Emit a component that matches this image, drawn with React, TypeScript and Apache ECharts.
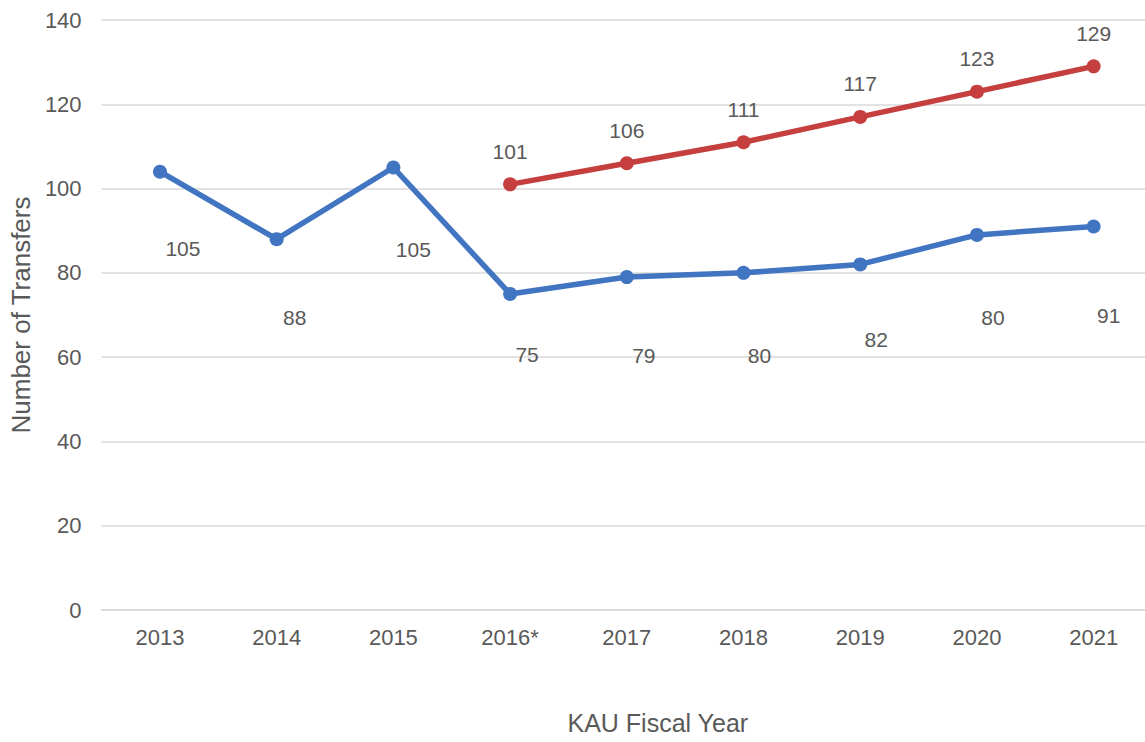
import React, { useEffect, useRef } from "react";
import * as echarts from "echarts";

const years = ["2013", "2014", "2015", "2016*", "2017", "2018", "2019", "2020", "2021"];
const blueValues = [104, 88, 105, 75, 79, 80, 82, 89, 91];
const blueLabels = ["105", "88", "105", "75", "79", "80", "82", "80", "91"];
const redValues: (number | string)[] = ["-", "-", "-", 101, 106, 111, 117, 123, 129];
const redLabels = ["", "", "", "101", "106", "111", "117", "123", "129"];
const yTicks = { min: 0, max: 140, interval: 20 };

// label placement offsets (style only)
const blueLabelOffsets = [[23, 77], [18, 78], [20, 82], [17, 61], [17, 78], [16, 83], [16, 75], [16, 83], [15, 89]];

const FONT = "'Liberation Sans', Arial, sans-serif";
const TXT = "#595959";
const BLUE = "#4174C1";
const RED = "#C43F3E";

export default function App() {
  const ref = useRef<HTMLDivElement>(null);
  useEffect(() => {
    if (!ref.current) return;
    const chart = echarts.init(ref.current, undefined, { renderer: "svg" });
    chart.setOption({
      animation: false,
      backgroundColor: "#ffffff",
      grid: { left: 100, top: 20, width: 1052, height: 590, containLabel: false },
      xAxis: {
        type: "category",
        data: years,
        boundaryGap: true,
        axisLine: { show: true, lineStyle: { color: "#d9d9d9", width: 1.5 } },
        axisTick: { show: false },
        axisLabel: { color: TXT, fontSize: 22, fontFamily: FONT, margin: 16 },
        name: "KAU Fiscal Year",
        nameLocation: "middle",
        nameGap: 100,
        nameTextStyle: { color: TXT, fontSize: 25, fontFamily: FONT, padding: [0, 0, 0, 62] },
      },
      yAxis: {
        type: "value",
        min: yTicks.min,
        max: yTicks.max,
        interval: yTicks.interval,
        axisLine: { show: false },
        axisTick: { show: false },
        splitLine: { lineStyle: { color: "#d9d9d9", width: 1.5 } },
        axisLabel: { color: TXT, fontSize: 22, fontFamily: FONT, margin: 20 },
        name: "Number of Transfers",
        nameLocation: "middle",
        nameGap: 64,
        nameTextStyle: { color: TXT, fontSize: 26, fontFamily: FONT },
      },
      series: [
        {
          type: "line",
          data: blueValues.map((v, i) => ({
            value: v,
            label: { offset: blueLabelOffsets[i] },
          })),
          symbol: "circle",
          symbolSize: 14,
          lineStyle: { color: BLUE, width: 5.5 },
          itemStyle: { color: BLUE },
          label: {
            show: true,
            position: "inside",
            color: TXT,
            fontSize: 21,
            fontFamily: FONT,
            formatter: (p: any) => blueLabels[p.dataIndex],
          },
          z: 3,
        },
        {
          type: "line",
          data: redValues,
          symbol: "circle",
          symbolSize: 14,
          lineStyle: { color: RED, width: 5.5 },
          itemStyle: { color: RED },
          label: {
            show: true,
            position: "inside",
            offset: [0, -33],
            color: TXT,
            fontSize: 21,
            fontFamily: FONT,
            formatter: (p: any) => redLabels[p.dataIndex],
          },
          z: 3,
        },
      ],
    });
    return () => chart.dispose();
  }, []);
  return (
    <div
      style={{ position: "absolute", left: 0, top: 0, width: 1145, height: 742, overflow: "hidden", background: "#fff" }}
    >
      <div ref={ref} style={{ width: 1160, height: 742 }} />
    </div>
  );
}
